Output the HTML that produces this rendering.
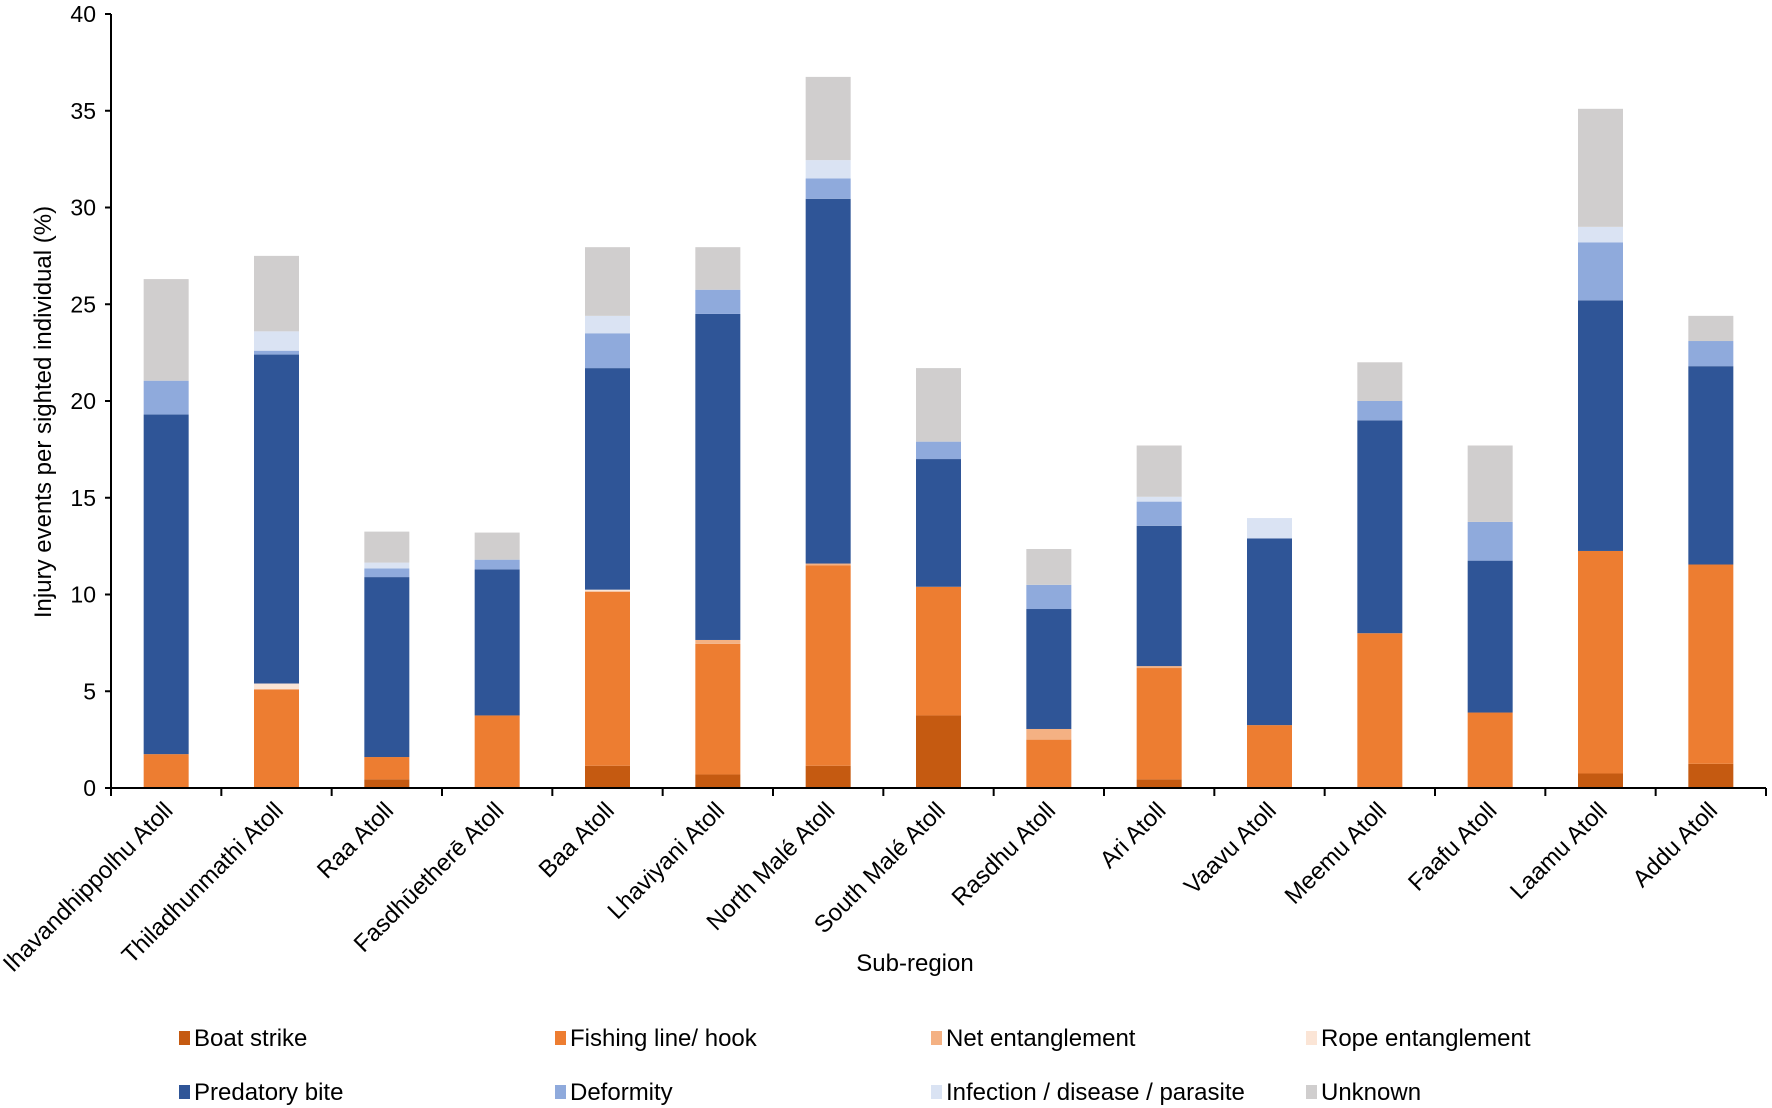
<!DOCTYPE html>
<html><head><meta charset="utf-8"><style>
html,body{margin:0;padding:0;background:#fff;}
svg{display:block;font-family:"Liberation Sans",Arial,sans-serif;}
</style></head><body>
<svg id="chart" width="1772" height="1108" viewBox="0 0 1772 1108" xmlns="http://www.w3.org/2000/svg">
<g id="bars"></g>
<g id="axes"></g>
<g id="legend"></g>
</svg>
<script>
const categories = ["Ihavandhippolhu Atoll","Thiladhunmathi Atoll","Raa Atoll","Fasdhūetherē Atoll","Baa Atoll","Lhaviyani Atoll","North Malé Atoll","South Malé Atoll","Rasdhu Atoll","Ari Atoll","Vaavu Atoll","Meemu Atoll","Faafu Atoll","Laamu Atoll","Addu Atoll"];
const seriesNames = ["Boat strike","Fishing line/ hook","Net entanglement","Rope entanglement","Predatory bite","Deformity","Infection / disease / parasite","Unknown"];
const seriesColors = ["#c55a11","#ed7d31","#f4b183","#fbe5d6","#2f5597","#8faadc","#dae3f3","#d0cece"];
const boatStrike = [0,0,0.45,0,1.15,0.7,1.15,3.75,0,0.45,0,0,0,0.75,1.25];
const fishingLine = [1.75,5.1,1.15,3.75,9.0,6.75,10.35,6.65,2.5,5.75,3.25,8.0,3.9,11.5,10.3];
const netEntanglement = [0,0,0,0,0,0.2,0.1,0,0.55,0.1,0,0,0,0,0];
const ropeEntanglement = [0,0.3,0,0,0.1,0,0,0,0,0,0,0,0,0,0];
const predatoryBite = [17.55,17.0,9.3,7.55,11.45,16.85,18.85,6.6,6.2,7.25,9.65,11.0,7.85,12.95,10.25];
const deformity = [1.75,0.2,0.45,0.5,1.8,1.25,1.05,0.9,1.25,1.25,0,1.0,2.0,3.0,1.3];
const infection = [0,1.0,0.3,0,0.9,0,0.95,0,0,0.25,1.05,0,0,0.8,0];
const unknown = [5.25,3.9,1.6,1.4,3.55,2.2,4.3,3.8,1.85,2.65,0,2.0,3.95,6.1,1.3];
const yTicks = [0,5,10,15,20,25,30,35,40];

const series = [boatStrike,fishingLine,netEntanglement,ropeEntanglement,predatoryBite,deformity,infection,unknown];
const NS="http://www.w3.org/2000/svg";
const x0=111, x1=1766, yZero=788, yTop=14, yMax=40;
const band=(x1-x0)/categories.length, barW=45;
function yScale(v){return yZero-(v/yMax)*(yZero-yTop);}
function xCenter(i){return x0+band*(i+0.5);}
function mk(tag,attrs,parent){const e=document.createElementNS(NS,tag);for(const k in attrs)e.setAttribute(k,attrs[k]);parent.appendChild(e);return e;}

const gBars=document.getElementById('bars');
categories.forEach((c,i)=>{
  let cum=0;
  series.forEach((s,si)=>{
    const v=s[i];
    if(v>0){
      const r=mk('rect',{x:xCenter(i)-barW/2,y:yScale(cum+v),width:barW,height:yScale(cum)-yScale(cum+v),fill:seriesColors[si]},gBars);
      
      
    }
    cum+=v;
  });
});

const gA=document.getElementById('axes');
let l=mk('line',{x1:x0,y1:yTop,x2:x0,y2:yZero,stroke:'#000','stroke-width':2},gA);


l=mk('line',{x1:x0,y1:yZero,x2:x1,y2:yZero,stroke:'#000','stroke-width':2},gA);


yTicks.forEach(t=>{
  const y=yScale(t);
  mk('line',{x1:x0-6,y1:y,x2:x0,y2:y,stroke:'#000','stroke-width':2},gA);
  const tx=mk('text',{x:x0-15,y:y+8,'text-anchor':'end','font-size':23,fill:'#000'},gA);
  tx.textContent=t;
  
  
});
for(let i=0;i<=categories.length;i++){
  const x=x0+band*i;
  mk('line',{x1:x,y1:yZero,x2:x,y2:yZero+8,stroke:'#000','stroke-width':2},gA);
}
categories.forEach((c,i)=>{
  const x=xCenter(i)+8, y=yZero+24;
  const tx=mk('text',{x:x,y:y,'text-anchor':'end','font-size':24,fill:'#000',transform:`rotate(-45 ${x} ${y})`},gA);
  tx.textContent=c;
  
  
});
let t=mk('text',{x:51,y:412,'text-anchor':'middle','font-size':24,fill:'#000',transform:'rotate(-90 51 412)'},gA);
t.textContent='Injury events per sighted individual (%)';


t=mk('text',{x:915,y:971,'text-anchor':'middle','font-size':24,fill:'#000'},gA);
t.textContent='Sub-region';



const gL=document.getElementById('legend');
const legX=[179,555,931,1306], legY=[1041,1095];
seriesNames.forEach((n,i)=>{
  const x=legX[i%4], y=legY[Math.floor(i/4)];
  const g=mk('g',{},gL);
  
  
  mk('rect',{x:x,y:y-10,width:11,height:14,fill:seriesColors[i]},g);
  const tx=mk('text',{x:x+15,y:y+5,'font-size':24,fill:'#000'},g);
  tx.textContent=n;
});
</script>
</body></html>
